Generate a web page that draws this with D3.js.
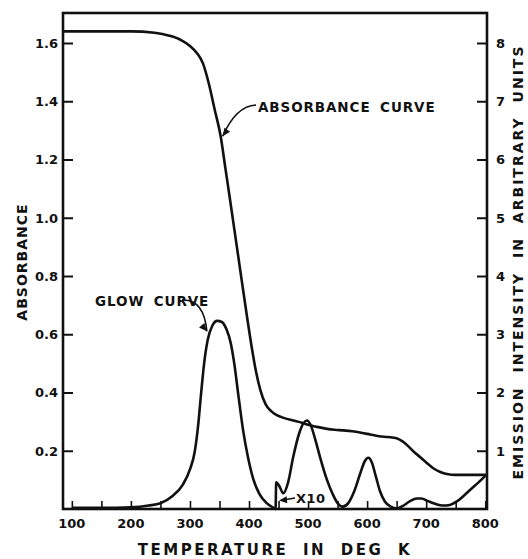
<!DOCTYPE html>
<html>
<head>
<meta charset="utf-8">
<script src="https://cdn.jsdelivr.net/npm/d3@7/dist/d3.min.js"></script>
<style>
  body { margin: 0; background: #fff; }
  text { font-family: "DejaVu Sans", sans-serif; font-weight: bold; fill: #111; }
</style>
</head>
<body>
<svg id="chart" width="528" height="559"></svg>
<script>
// --- data ---
const absTemp = [85, 150, 200, 240, 265, 285, 300, 312, 322, 332, 342, 352, 360, 368, 378, 388, 397, 405, 412, 419, 428, 438, 447, 460, 475, 490, 500, 515, 530, 545, 560, 575, 590, 605, 620, 635, 650, 660, 670, 680, 690, 700, 712, 724, 735, 750, 775, 803];
const absValue = [1.64, 1.64, 1.64, 1.635, 1.625, 1.61, 1.59, 1.565, 1.53, 1.46, 1.37, 1.28, 1.17, 1.06, 0.92, 0.78, 0.655, 0.55, 0.47, 0.41, 0.36, 0.335, 0.322, 0.312, 0.304, 0.296, 0.289, 0.282, 0.276, 0.272, 0.27, 0.267, 0.262, 0.256, 0.25, 0.247, 0.243, 0.232, 0.215, 0.195, 0.178, 0.16, 0.14, 0.127, 0.12, 0.117, 0.117, 0.117];

const glowTemp = [100, 150, 200, 230, 250, 270, 288, 300, 308, 314, 319, 324, 330, 338, 346, 354, 362, 369, 375, 382, 390, 398, 407, 418, 430, 440, 445, 446, 451, 458, 466, 475, 485, 492, 498, 504, 512, 520, 532, 542, 550, 559, 568, 578, 588, 596, 602, 608, 615, 622, 630, 640, 650, 660, 672, 684, 692, 702, 715, 728, 740, 752, 765, 778, 790, 800];
const glowValue = [0.02, 0.02, 0.03, 0.06, 0.1, 0.22, 0.42, 0.68, 0.98, 1.45, 2.0, 2.5, 2.9, 3.15, 3.23, 3.21, 3.08, 2.85, 2.5, 1.95, 1.35, 0.9, 0.52, 0.25, 0.1, 0.03, 0.0, 0.46, 0.4, 0.27, 0.45, 0.9, 1.3, 1.47, 1.52, 1.45, 1.2, 0.9, 0.5, 0.25, 0.1, 0.04, 0.1, 0.3, 0.6, 0.82, 0.88, 0.8, 0.55, 0.3, 0.13, 0.04, 0.01, 0.05, 0.13, 0.18, 0.18, 0.14, 0.09, 0.06, 0.07, 0.13, 0.24, 0.36, 0.47, 0.57];

const xTicks = [100, 200, 300, 400, 500, 600, 700, 800];
const xMinorTicks = [150, 250, 350, 450, 550, 650, 750];
const absTicks = [0.2, 0.4, 0.6, 0.8, 1.0, 1.2, 1.4, 1.6];
const emTicks = [1, 2, 3, 4, 5, 6, 7, 8];

const svg = d3.select("#chart");
const plotLeft = 63, plotRight = 487, plotTop = 13, plotBottom = 509;

const x = d3.scaleLinear().domain([85, 803]).range([plotLeft, plotRight]);
const yAbs = d3.scaleLinear().domain([0, 1.703]).range([plotBottom, plotTop]);
const yEm = d3.scaleLinear().domain([0, 8.515]).range([plotBottom, plotTop]);

// --- frame ---
svg.append("rect")
  .attr("x", plotLeft).attr("y", plotTop)
  .attr("width", plotRight - plotLeft).attr("height", plotBottom - plotTop)
  .attr("fill", "none").attr("stroke", "#111").attr("stroke-width", 2.6);

// --- axes (ticks pointing inward) ---
const leftAxis = d3.axisRight(yAbs).tickValues(absTicks).tickSize(10).tickFormat("");
svg.append("g").attr("transform", `translate(${plotLeft},0)`).call(leftAxis)
  .call(g => g.select(".domain").remove())
  .selectAll("line").attr("stroke", "#111").attr("stroke-width", 2);

svg.append("g").selectAll("text").data(absTicks).enter().append("text")
  .attr("x", plotLeft - 5).attr("y", d => yAbs(d) + 5)
  .attr("text-anchor", "end").attr("font-size", 13)
  .text(d => d.toFixed(1));

const rightAxis = d3.axisLeft(yEm).tickValues(emTicks).tickSize(10).tickFormat("");
svg.append("g").attr("transform", `translate(${plotRight},0)`).call(rightAxis)
  .call(g => g.select(".domain").remove())
  .selectAll("line").attr("stroke", "#111").attr("stroke-width", 2);

svg.append("g").selectAll("text").data(emTicks).enter().append("text")
  .attr("x", plotRight + 9).attr("y", d => yEm(d) + 5)
  .attr("text-anchor", "start").attr("font-size", 13)
  .text(d => d);

const bottomAxis = d3.axisTop(x).tickValues(xTicks.concat(xMinorTicks)).tickSize(8).tickFormat("");
svg.append("g").attr("transform", `translate(0,${plotBottom})`).call(bottomAxis)
  .call(g => g.select(".domain").remove())
  .selectAll("line").attr("stroke", "#111").attr("stroke-width", 1.6);

svg.append("g").selectAll("text").data(xTicks).enter().append("text")
  .attr("x", d => x(d)).attr("y", 528)
  .attr("text-anchor", "middle").attr("font-size", 13)
  .text(d => d);

// --- axis titles ---
svg.append("text")
  .attr("x", 275).attr("y", 555)
  .attr("text-anchor", "middle").attr("font-size", 15)
  .attr("letter-spacing", 2.5).attr("word-spacing", 7)
  .text("TEMPERATURE IN DEG K");

svg.append("text")
  .attr("transform", "translate(27,262) rotate(-90)")
  .attr("text-anchor", "middle").attr("font-size", 14)
  .attr("letter-spacing", 1)
  .text("ABSORBANCE");

svg.append("text")
  .attr("transform", "translate(523,262) rotate(-90)")
  .attr("text-anchor", "middle").attr("font-size", 14)
  .attr("letter-spacing", 2).attr("word-spacing", 7)
  .text("EMISSION INTENSITY IN ARBITRARY UNITS");

// --- curves ---
const absLine = d3.line()
  .x((d, i) => x(absTemp[i]))
  .y(d => yAbs(d))
  .curve(d3.curveMonotoneX);

const glowLine = d3.line()
  .x((d, i) => x(glowTemp[i]))
  .y(d => yEm(d))
  .curve(d3.curveMonotoneX);

svg.append("path").attr("d", absLine(absValue))
  .attr("fill", "none").attr("stroke", "#111").attr("stroke-width", 2.6);
svg.append("path").attr("d", glowLine(glowValue))
  .attr("fill", "none").attr("stroke", "#111").attr("stroke-width", 2.6);

// --- annotations ---
function arrowHead(tx, ty, angle) {
  const a = angle * Math.PI / 180, len = 8, w = 3.5;
  const bx = tx - len * Math.cos(a), by = ty - len * Math.sin(a);
  const px = -Math.sin(a) * w, py = Math.cos(a) * w;
  svg.append("path")
    .attr("d", `M${tx},${ty}L${bx + px},${by + py}L${bx - px},${by - py}Z`)
    .attr("fill", "#111");
}

// absorbance label
svg.append("text").attr("x", 258).attr("y", 112)
  .attr("font-size", 13.5).attr("letter-spacing", 0.9).attr("word-spacing", 4)
  .text("ABSORBANCE CURVE");
const aTip = [x(352) + 2, yAbs(1.28)];
svg.append("path")
  .attr("d", `M256,105 Q236,106 ${aTip[0]},${aTip[1]}`)
  .attr("fill", "none").attr("stroke", "#111").attr("stroke-width", 1.6);
arrowHead(aTip[0], aTip[1], 125);

// glow label
svg.append("text").attr("x", 95).attr("y", 306)
  .attr("font-size", 13.5).attr("letter-spacing", 0.9).attr("word-spacing", 4)
  .text("GLOW CURVE");
const gTip = [x(332) - 2, yEm(3.05)];
svg.append("path")
  .attr("d", `M182,300 Q204,299 ${gTip[0]},${gTip[1]}`)
  .attr("fill", "none").attr("stroke", "#111").attr("stroke-width", 1.6);
arrowHead(gTip[0], gTip[1], 50);

// x10 label
svg.append("text").attr("x", 296).attr("y", 503)
  .attr("font-size", 13).attr("letter-spacing", 0.5)
  .text("X10");
svg.append("line").attr("x1", 295).attr("y1", 498).attr("x2", 283).attr("y2", 500)
  .attr("stroke", "#111").attr("stroke-width", 1.4);
arrowHead(279, 500.5, 175);
</script>
</body>
</html>
